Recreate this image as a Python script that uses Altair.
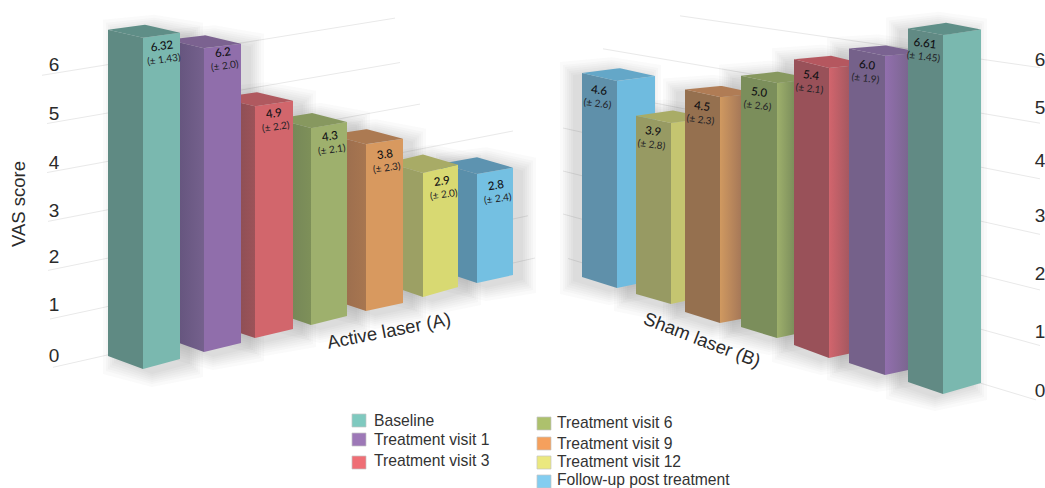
import altair as alt
import numpy as np
import pandas as pd

# Mean VAS score and standard deviation per visit, baseline first
series = ["Baseline", "Treatment visit 1", "Treatment visit 3", "Treatment visit 6",
          "Treatment visit 9", "Treatment visit 12", "Follow-up post treatment"]
active_values = [6.32, 6.2, 4.9, 4.3, 3.8, 2.9, 2.8]
active_errors = [1.43, 2.0, 2.2, 2.1, 2.3, 2.0, 2.4]
sham_values = [6.61, 6.0, 5.4, 5.0, 4.5, 3.9, 4.6]
sham_errors = [1.45, 1.9, 2.1, 2.6, 2.3, 2.8, 2.6]
ticks = [0, 1, 2, 3, 4, 5, 6]

W, H = 1045, 488
XS = alt.Scale(domain=[0, W], range=[0, W], nice=False, zero=False)
YS = alt.Scale(domain=[0, H], range=[0, H], nice=False, zero=False)
FONT = "Liberation Sans"
SIDE_SHRINK = 0.985  # side edges sit further from the viewer than the front edge

# Floor footprint of each bar and its vertical pixels per score unit (depth scale)
active_layout = dict(
    xl=[108, 168, 219, 276, 330, 388, 441], xf=[143, 204, 255, 311, 366, 423, 477],
    xr=[180, 241, 293, 347, 403, 458, 513],
    fl=[356, 339, 326, 313, 299, 285, 271], ff=[369, 352, 338, 325, 311, 297, 283],
    fr=[359, 343, 329, 316, 303, 287, 275],
    k=[52.4, 49.0, 47.3, 45.8, 43.9, 42.8, 38.9])
sham_layout = dict(
    xl=[908, 849, 794, 741, 685, 636, 582], xf=[943, 885, 829, 777, 720, 671, 617],
    xr=[981, 922, 866, 814, 757, 708, 655],
    fl=[382, 363, 345, 327, 312, 294, 277], ff=[394, 375, 358, 338, 323, 304, 288],
    fr=[383, 367, 350, 330, 316, 296, 280],
    k=[54.3, 53.2, 53.7, 51.0, 50.2, 46.4, 45.0])


def grad(c0, c1, end=1.0):
    return alt.Gradient(gradient="linear", x1=0, x2=1, y1=0, y2=0,
                        stops=[alt.GradientStop(color=c0, offset=0),
                               alt.GradientStop(color=c1, offset=end),
                               alt.GradientStop(color=c1, offset=1)])


# (left face, right face, top face) for each visit
active_colors = [
    ("#5f8a83", "#7ab8af", "#5f8e87"),
    (grad("#5f5078", "#75618d"), "#906eab", "#7b6290"),
    (grad("#7a4a50", "#9d5359"), "#d2666c", "#b0595f"),
    (grad("#6f8058", "#7e9059"), "#9eb06d", "#87985f"),
    (grad("#94694d", "#a87650"), "#d8995f", "#ac7a52"),
    ("#9ca064", "#d8d972", "#a8ab66"),
    ("#5a8faa", "#74c0e2", "#5d93b0"),
]
sham_colors = [
    ("#618a84", "#7ab8af", "#5f8f88"),
    ("#75618a", grad("#926fae", "#7b6690", 0.62), "#7a6391"),
    ("#995159", grad("#d2656d", "#a55860", 0.55), "#b5575f"),
    ("#7b8e5b", grad("#9eb06c", "#7d8f5c", 0.45), "#87985f"),
    ("#95704f", grad("#d09960", "#a67858", 0.57), "#b07c55"),
    ("#979a63", "#c5c570", "#a9ac66"),
    ("#5f90aa", "#6fbbdf", "#64a7c8"),
]
legend_colors = ["#7fc9bf", "#9d78b7", "#ef6e75", "#adc16d", "#f5a05d", "#ebe87f", "#83cdf0"]


def band(upper, lower):
    ux, uy = zip(*upper)
    lx, ly = zip(*lower)
    xs = sorted(set(ux) | set(lx))
    return pd.DataFrame({"x": xs, "y": np.interp(xs, ux, uy), "y2": np.interp(xs, lx, ly)})


def area(df, **mark):
    return alt.Chart(df).mark_area(interpolate="linear", strokeWidth=0, **mark).encode(
        x=alt.X("x:Q", scale=XS, axis=None),
        y=alt.Y("y:Q", scale=YS, axis=None),
        y2="y2:Q")


def bar_vertices(layout, values, i):
    v = values[i]
    h = v * layout["k"][i]
    xl, xf, xr = layout["xl"][i], layout["xf"][i], layout["xr"][i]
    fl, ff, fr = layout["fl"][i], layout["ff"][i], layout["fr"][i]
    tl, tf, tr = fl - h * SIDE_SHRINK, ff - h, fr - h * SIDE_SHRINK
    return xl, xf, xr, fl, ff, fr, tl, tf, tr, xl + xr - xf, tl + tr - tf


def shadow_layers(layout, values, dx, dy):
    out = []
    for i in reversed(range(len(values))):
        xl, xf, xr, fl, ff, fr, tl, tf, tr, xb, tb = bar_vertices(layout, values, i)
        for e in (14, 11, 9, 7, 5, 3, 1):
            up = [(xl - e + dx, tl - e + dy), (xb + dx, tb - e + dy), (xr + e + dx, tr - e + dy)]
            lo = [(xl - e + dx, fl + e + dy), (xf + dx, ff + e + dy), (xr + e + dx, fr + e + dy)]
            out.append(area(band(up, lo), color="#50505a", opacity=0.026))
    return out


def bar_layers(layout, values, colors):
    out = []
    for i in reversed(range(len(values))):
        xl, xf, xr, fl, ff, fr, tl, tf, tr, xb, tb = bar_vertices(layout, values, i)
        c_left, c_right, c_top = colors[i]
        out.append(area(band([(xl, tl), (xf, tf)], [(xl, fl), (xf, ff)]), color=c_left))
        out.append(area(band([(xf, tf), (xr, tr)], [(xf, ff), (xr, fr)]), color=c_right))
        out.append(area(band([(xl, tl), (xb, tb), (xr, tr)], [(xl, tl), (xf, tf), (xr, tr)]),
                        color=c_top))
    return out


def text_layer(df, **mark):
    return alt.Chart(df).mark_text(**mark).encode(
        x=alt.X("x:Q", scale=XS, axis=None),
        y=alt.Y("y:Q", scale=YS, axis=None),
        text="t:N")


def value_labels(layout, values, errors, dx, dys, angle):
    rows, err_rows = [], []
    for i, v in enumerate(values):
        xf, tf = layout["xf"][i], layout["ff"][i] - v * layout["k"][i]
        a = np.radians(angle)
        rows.append({"x": xf + dx, "y": tf + dys[i], "t": str(v)})
        err_rows.append({"x": xf + dx - 13 * np.sin(a), "y": tf + dys[i] + 13 * np.cos(a),
                         "t": f"(± {errors[i]})"})
    return [
        text_layer(pd.DataFrame(rows), font="Lato", fontSize=11.5, fontWeight=500, color="#111114",
                   angle=(angle + 360) % 360, align="center", baseline="middle"),
        text_layer(pd.DataFrame(err_rows), font="Lato", fontSize=10, color="#222226",
                   angle=(angle + 360) % 360, align="center", baseline="middle"),
    ]


def grid_lines(x0s, x1s, x_a, y_a, slope_a, x_b, y_b, slope_b):
    # Receding gridlines: each tick's line runs between two perspective rails
    rows = []
    for t, x0, x1 in zip(ticks, x0s, x1s):
        ya, yb = y_a - slope_a * t, y_b - slope_b * t
        for x in (x0, x1):
            rows.append({"tick": t, "x": x, "y": ya + (yb - ya) * (x - x_a) / (x_b - x_a)})
    return alt.Chart(pd.DataFrame(rows)).mark_line(color="#e9e9e9", strokeWidth=1).encode(
        x=alt.X("x:Q", scale=XS, axis=None),
        y=alt.Y("y:Q", scale=YS, axis=None),
        detail="tick:N")


layers = [
    grid_lines([53, 50, 48, 48, 47, 47, 42], [535, 528, 513, 513, 420, 400, 395],
               50, 368, 49, 513, 263, 44),
    grid_lines([568, 563, 563, 563, 655, 603, 680], [1036, 1040, 1040, 1040, 1040, 1040, 1040],
               563, 257, 43, 980, 383, 54),
]
layers += shadow_layers(active_layout, active_values, 9, 4)
layers += shadow_layers(sham_layout, sham_values, -8, 3)
layers += bar_layers(active_layout, active_values, active_colors)
layers += bar_layers(sham_layout, sham_values, sham_colors)
layers += value_labels(active_layout, active_values, active_errors, 19, [9, 5, 8, 9, 11, 9, 12], -8)
layers += value_labels(sham_layout, sham_values, sham_errors, -18, [9, 10, 8, 10, 10, 9, 10], 7)

# Tick numbers either side of the chart
left_ticks = pd.DataFrame({"x": [54] * 7, "y": [356, 305, 257, 211, 163, 114, 65], "t": [str(t) for t in ticks]})
right_ticks = pd.DataFrame({"x": [1040] * 7, "y": [391, 332, 274, 216, 161, 108, 60], "t": [str(t) for t in ticks]})
for frame in (left_ticks, right_ticks):
    layers.append(text_layer(frame, font=FONT, fontSize=19, color="#2b2b2b", align="center", baseline="middle"))

# Axis and group captions
for caption, x, y, angle in [("VAS score", 19, 204, 270),
                             ("Active laser (A)", 389, 331, 349),
                             ("Sham laser (B)", 702, 340, 21)]:
    layers.append(text_layer(pd.DataFrame({"x": [x], "y": [y], "t": [caption]}), font=FONT, fontSize=18.5,
                             color="#2b2b2b", angle=angle, align="center", baseline="middle"))

# Two-column legend
legend_x = [352, 352, 352, 537, 537, 537, 537]
swatch_y = [414, 433, 456, 417, 437, 456, 475]
text_x = [374, 374, 374, 557, 557, 557, 557]
text_y = [421, 440, 461, 423, 444, 462, 480]
swatches = pd.DataFrame({"x": legend_x, "x2": [a + 14 for a in legend_x], "y": swatch_y,
                         "y2": [a + 13 for a in swatch_y], "c": legend_colors, "s": series})
layers.append(alt.Chart(swatches).mark_rect(stroke="#c4c4c4", strokeWidth=0.7).encode(
    x=alt.X("x:Q", scale=XS, axis=None), x2="x2:Q",
    y=alt.Y("y:Q", scale=YS, axis=None), y2="y2:Q",
    color=alt.Color("c:N", scale=None, legend=None)))
layers.append(text_layer(pd.DataFrame({"x": text_x, "y": text_y, "t": series}), font=FONT, fontSize=15.7,
                         color="#333333", align="left", baseline="middle"))

chart = alt.layer(*layers).properties(
    width=W, height=H, padding=0, autosize=alt.AutoSizeParams(type="none"), background="white"
).configure_view(stroke=None)

chart.save("out.html", embed_options={"renderer": "svg", "actions": False})
